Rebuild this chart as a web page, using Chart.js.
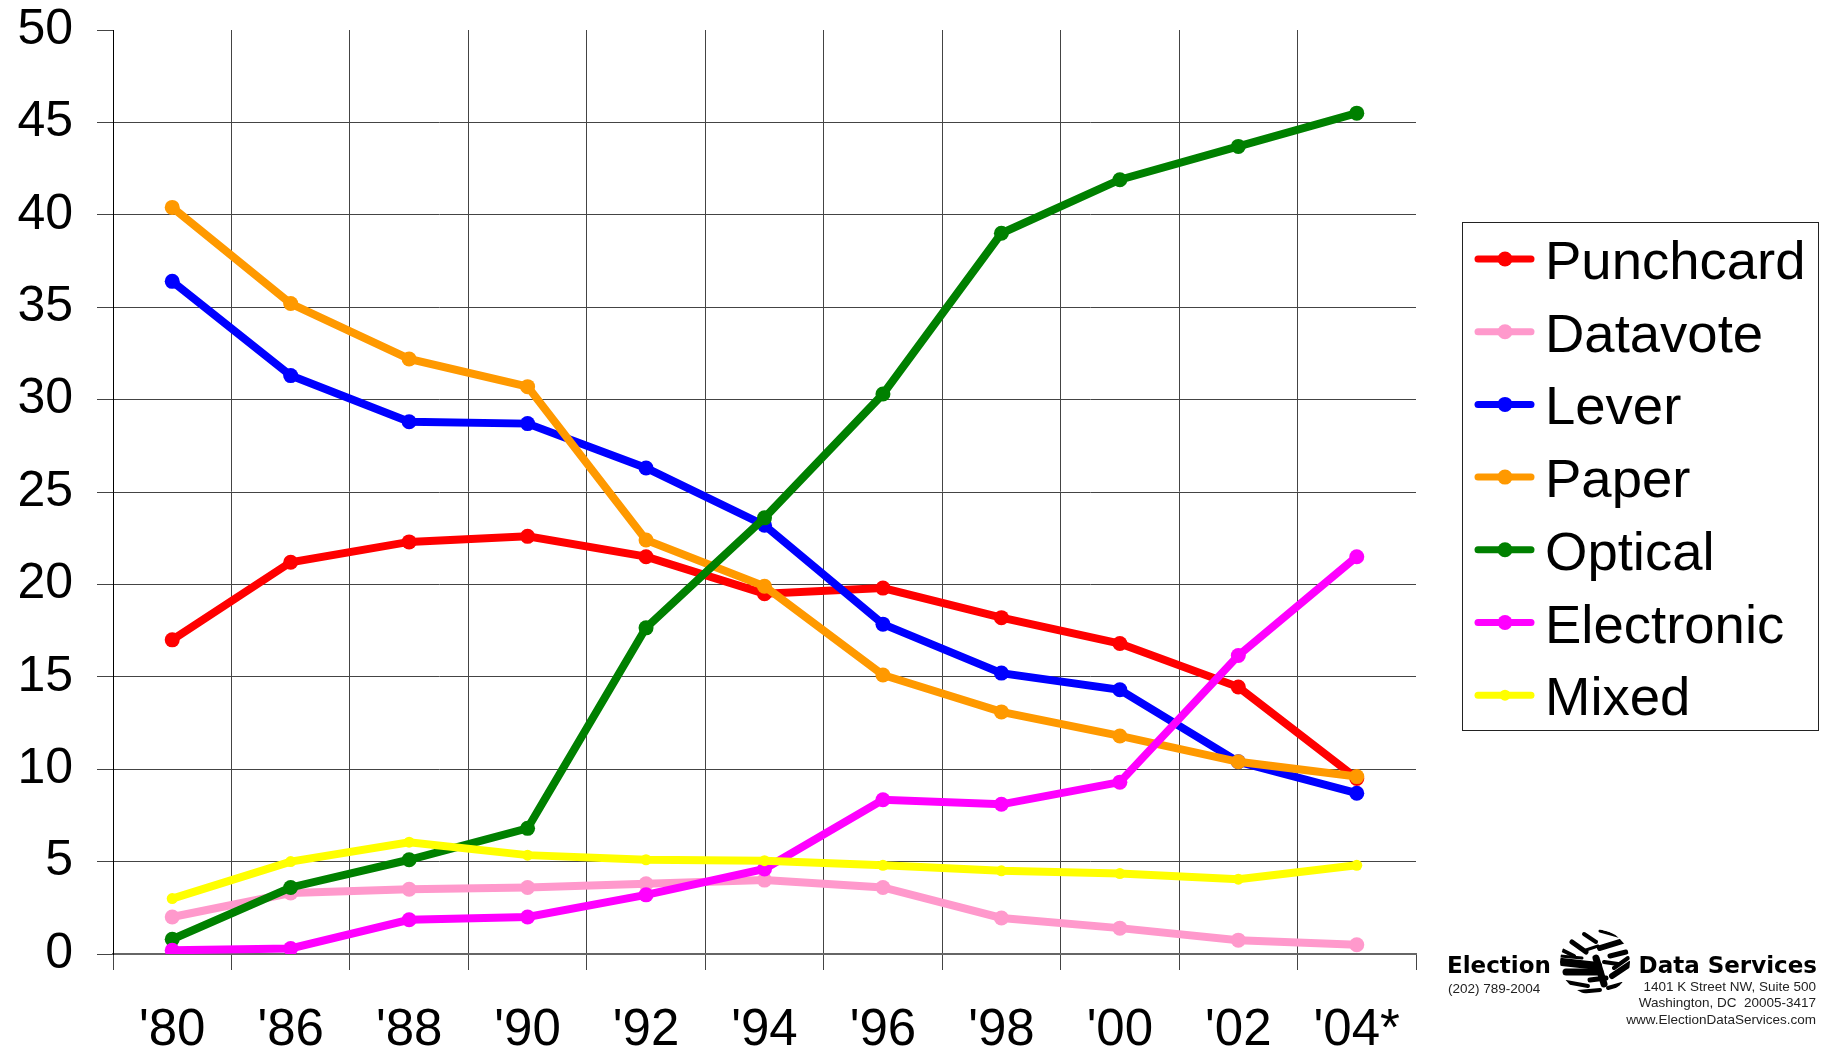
<!DOCTYPE html>
<html>
<head>
<meta charset="utf-8">
<title>Voting equipment by year</title>
<script src="https://cdn.jsdelivr.net/npm/chart.js@4/dist/chart.umd.js"></script>
<style>
    html, body { margin: 0; padding: 0; background: #fff; }
    canvas { display: block; }
</style>
</head>
<body>
<canvas id="equipmentChart" width="1826" height="1051"></canvas>
<script>
// Data
const years = ["'80", "'86", "'88", "'90", "'92", "'94", "'96", "'98", "'00", "'02", "'04*"];
const punchcard = [17.0, 21.2, 22.3, 22.6, 21.5, 19.5, 19.8, 18.2, 16.8, 14.45, 9.5];
const datavote = [2.0, 3.3, 3.5, 3.6, 3.8, 4.0, 3.6, 1.95, 1.4, 0.75, 0.5];
const lever = [36.4, 31.3, 28.8, 28.7, 26.3, 23.2, 17.85, 15.2, 14.3, 10.4, 8.7];
const paper = [40.4, 35.2, 32.2, 30.7, 22.4, 19.9, 15.1, 13.1, 11.8, 10.4, 9.6];
const optical = [0.8, 3.6, 5.1, 6.8, 17.65, 23.6, 30.3, 39.0, 41.9, 43.7, 45.5];
const electronic = [0.2, 0.3, 1.85, 2.0, 3.2, 4.6, 8.35, 8.1, 9.3, 16.15, 21.5];
const mixed = [3.0, 5.0, 6.05, 5.35, 5.1, 5.05, 4.8, 4.5, 4.35, 4.05, 4.8];

const FONT = '"Liberation Sans", Arial, sans-serif';
const GRID = '#444';

// order: Chart.js draws the lowest order last, so Mixed ends up on top
function makeSeries(label, data, color, radius, order) {
    return {
        label: label,
        data: data,
        order: order,
        borderColor: color,
        backgroundColor: color,
        borderWidth: 8,
        tension: 0,
        pointRadius: radius,
        pointBorderWidth: 0,
        pointBackgroundColor: color
    };
}

// Legend box, drawn from the datasets
const boxLegend = {
    id: 'boxLegend',
    afterDraw(chart) {
        const ctx = chart.ctx;
        ctx.save();
        ctx.strokeStyle = '#222';
        ctx.lineWidth = 1;
        ctx.strokeRect(1462.5, 222.5, 356, 508);
        ctx.font = '54.5px ' + FONT;
        ctx.textBaseline = 'alphabetic';
        ctx.textAlign = 'left';
        chart.data.datasets.forEach(function(ds, i) {
            const y = 259 + i * 72.7;
            ctx.strokeStyle = ds.borderColor;
            ctx.lineWidth = 7;
            ctx.lineCap = 'round';
            ctx.beginPath();
            ctx.moveTo(1478, y);
            ctx.lineTo(1531, y);
            ctx.stroke();
            ctx.fillStyle = ds.borderColor;
            ctx.beginPath();
            ctx.arc(1505, y, ds.pointRadius, 0, Math.PI * 2);
            ctx.fill();
            ctx.fillStyle = '#000';
            ctx.fillText(ds.label, 1545, y + 20);
        });
        ctx.restore();
    }
};

// Company logo in the bottom right corner
const logo = {
    id: 'logo',
    afterDraw(chart) {
        const ctx = chart.ctx;
        ctx.save();
        ctx.fillStyle = '#000';
        ctx.textBaseline = 'alphabetic';
        ctx.font = 'bold 23px "DejaVu Sans", sans-serif';
        ctx.textAlign = 'left';
        ctx.fillText('Election', 1447, 973);
        ctx.textAlign = 'right';
        ctx.fillText('Data Services', 1817, 973);
        ctx.font = '13.5px ' + FONT;
        ctx.fillStyle = '#222';
        ctx.textAlign = 'left';
        ctx.fillText('(202) 789-2004', 1448, 993);
        ctx.textAlign = 'right';
        ctx.fillText('1401 K Street NW, Suite 500', 1816, 991);
        ctx.fillText('Washington, DC  20005-3417', 1816, 1007);
        ctx.fillText('www.ElectionDataServices.com', 1816, 1024);

        // Rough globe
        ctx.save();
        ctx.beginPath();
        ctx.ellipse(1595, 962, 35, 33, 0, 0, Math.PI * 2);
        ctx.clip();
        ctx.strokeStyle = '#000';
        ctx.lineCap = 'round';
        const strokes = [
            [1584, 934, 1596, 942, 4], [1600, 931, 1618, 936, 3], [1572, 942, 1586, 952, 5],
            [1600, 948, 1626, 940, 6], [1562, 950, 1574, 956, 4], [1610, 956, 1626, 952, 5],
            [1562, 962, 1598, 966, 8], [1566, 972, 1600, 972, 7], [1596, 958, 1604, 984, 7],
            [1612, 976, 1630, 964, 6], [1566, 982, 1588, 986, 4], [1578, 992, 1600, 990, 4],
            [1608, 988, 1622, 984, 4], [1590, 980, 1606, 978, 5], [1586, 950, 1598, 946, 3],
            [1614, 968, 1628, 958, 4], [1560, 956, 1582, 958, 3], [1604, 962, 1618, 964, 4]
        ];
        strokes.forEach(function(s) {
            ctx.lineWidth = s[4];
            ctx.beginPath();
            ctx.moveTo(s[0], s[1]);
            ctx.lineTo(s[2], s[3]);
            ctx.stroke();
        });
        ctx.restore();
        ctx.restore();
    }
};

new Chart(document.getElementById('equipmentChart'), {
    type: 'line',
    data: {
        labels: years,
        datasets: [
            makeSeries('Punchcard', punchcard, '#ff0000', 7.5, 7),
            makeSeries('Datavote', datavote, '#ff99cc', 7.5, 6),
            makeSeries('Lever', lever, '#0000ff', 7.5, 5),
            makeSeries('Paper', paper, '#ff9900', 7.5, 4),
            makeSeries('Optical', optical, '#008000', 7.5, 3),
            makeSeries('Electronic', electronic, '#ff00ff', 7.5, 2),
            makeSeries('Mixed', mixed, '#ffff00', 5.5, 1)
        ]
    },
    options: {
        responsive: false,
        animation: false,
        layout: { padding: { top: 0, right: 410, left: 0, bottom: 0 } },
        plugins: {
            legend: { display: false },
            tooltip: { enabled: false }
        },
        scales: {
            x: {
                offset: true,
                afterFit: function(scale) { scale.height = 97; },
                grid: {
                    offset: true,
                    // no full line at the right edge, only its tick
                    color: function(c) { return c.index === undefined ? 'transparent' : GRID; },
                    tickColor: GRID,
                    lineWidth: 1,
                    tickLength: 16
                },
                border: { color: '#666', width: 2 },
                ticks: {
                    color: '#000',
                    font: { family: FONT, size: 51 },
                    maxRotation: 0,
                    autoSkip: false,
                    padding: 30
                }
            },
            y: {
                min: 0,
                max: 50,
                afterFit: function(scale) {
                    scale.width = 113;
                    scale.paddingTop = 30;
                },
                grid: {
                    // no line across the top, only the tick
                    color: function(c) { return c.tick && c.tick.value === 50 ? 'transparent' : GRID; },
                    tickColor: GRID,
                    lineWidth: 1,
                    tickLength: 16
                },
                border: { color: '#000', width: 1 },
                ticks: {
                    color: '#000',
                    stepSize: 5,
                    font: { family: FONT, size: 50 },
                    padding: 24
                }
            }
        }
    },
    plugins: [boxLegend, logo]
});
</script>
</body>
</html>
